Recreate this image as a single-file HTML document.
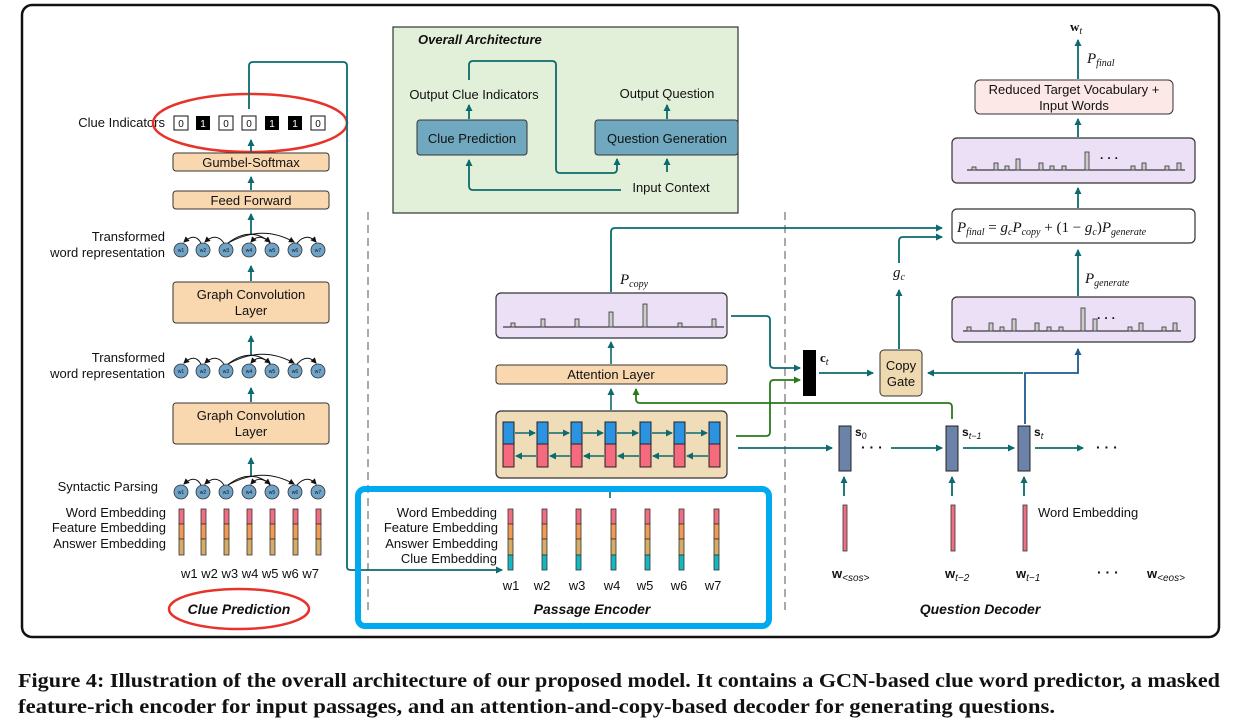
<!DOCTYPE html>
<html><head><meta charset="utf-8"><style>
html,body{margin:0;padding:0;background:#fff;}
svg{display:block;}
text{font-family:"Liberation Sans",sans-serif;fill:#111;}
.s{font-size:13px;}
.m{font-family:"Liberation Serif",serif;font-style:italic;}
.sf{font-family:"Liberation Serif",serif;font-weight:bold;}
.b{font-weight:bold;font-style:italic;}
</style></head><body>
<svg width="1237" height="723" viewBox="0 0 1237 723" xmlns="http://www.w3.org/2000/svg">
<defs>
<marker id="a" markerWidth="8" markerHeight="8" refX="6" refY="4" orient="auto" markerUnits="userSpaceOnUse"><path d="M0,0.5 L7,4 L0,7.5 z" fill="#0b6b6e"/></marker>
<marker id="g" markerWidth="8" markerHeight="8" refX="6" refY="4" orient="auto" markerUnits="userSpaceOnUse"><path d="M0,0.5 L7,4 L0,7.5 z" fill="#2a7a1a"/></marker>
<marker id="bl" markerWidth="8" markerHeight="8" refX="6" refY="4" orient="auto" markerUnits="userSpaceOnUse"><path d="M0,0.5 L7,4 L0,7.5 z" fill="#1f5a8f"/></marker>
<marker id="k" markerWidth="7" markerHeight="7" refX="5" refY="3.5" orient="auto" markerUnits="userSpaceOnUse"><path d="M0,0.5 L6,3.5 L0,6.5 z" fill="#111"/></marker>
<g id="row">
<g fill="#6fa3c8" stroke="#333" stroke-width="0.8">
<circle cx="181" cy="0" r="7"/><circle cx="203" cy="0" r="7"/><circle cx="226" cy="0" r="7"/><circle cx="249" cy="0" r="7"/><circle cx="272" cy="0" r="7"/><circle cx="295" cy="0" r="7"/><circle cx="318" cy="0" r="7"/>
</g>
<g font-size="5" text-anchor="middle">
<text x="181" y="2">w1</text><text x="203" y="2">w2</text><text x="226" y="2">w3</text><text x="249" y="2">w4</text><text x="272" y="2">w5</text><text x="295" y="2">w6</text><text x="318" y="2">w7</text>
</g>
<g fill="none" stroke="#111" stroke-width="1" marker-end="url(#k)">
<path d="M201,-7 Q195,-18 184,-8"/>
<path d="M224,-7 Q216,-18 205,-8"/>
<path d="M228,-7 Q250,-24 270,-8"/>
<path d="M228,-7 Q262,-26 294,-8"/>
<path d="M270,-7 Q260,-18 251,-8"/>
<path d="M297,-7 Q307,-18 316,-8"/>
</g>
</g>
</defs>
<rect x="22" y="5" width="1197" height="632" rx="10" fill="#fff" stroke="#111" stroke-width="2.5"/>

<line x1="368" y1="212" x2="368" y2="612" stroke="#aaa" stroke-width="2" stroke-dasharray="8,5"/>
<line x1="785" y1="212" x2="785" y2="612" stroke="#aaa" stroke-width="2" stroke-dasharray="8,5"/>

<g class="s">
<text x="165" y="127" text-anchor="end">Clue Indicators</text>
<text x="165" y="241" text-anchor="end">Transformed</text>
<text x="165" y="257" text-anchor="end">word representation</text>
<text x="165" y="362" text-anchor="end">Transformed</text>
<text x="165" y="378" text-anchor="end">word representation</text>
<text x="158" y="491" text-anchor="end">Syntactic Parsing</text>
<text x="166" y="517" text-anchor="end">Word Embedding</text>
<text x="166" y="532" text-anchor="end">Feature Embedding</text>
<text x="166" y="548" text-anchor="end">Answer Embedding</text>
</g>
<g font-size="10" text-anchor="middle">
<rect x="174" y="116" width="14" height="14" fill="#fff" stroke="#111"/><text x="181" y="127">0</text>
<rect x="196" y="116" width="14" height="14" fill="#000"/><text x="203" y="127" style="fill:#fff">1</text>
<rect x="219" y="116" width="14" height="14" fill="#fff" stroke="#111"/><text x="226" y="127">0</text>
<rect x="242" y="116" width="14" height="14" fill="#fff" stroke="#111"/><text x="249" y="127">0</text>
<rect x="265" y="116" width="14" height="14" fill="#000"/><text x="272" y="127" style="fill:#fff">1</text>
<rect x="288" y="116" width="14" height="14" fill="#000"/><text x="295" y="127" style="fill:#fff">1</text>
<rect x="311" y="116" width="14" height="14" fill="#fff" stroke="#111"/><text x="318" y="127">0</text>
</g>
<ellipse cx="250" cy="123" rx="97" ry="29" fill="none" stroke="#e8332a" stroke-width="2.5"/>

<g stroke="#333" stroke-width="1">
<rect x="173" y="153" width="156" height="18" rx="3" fill="#f9d8b0"/>
<rect x="173" y="191" width="156" height="18" rx="3" fill="#f9d8b0"/>
<rect x="173" y="282" width="156" height="41" rx="3" fill="#f9d8b0"/>
<rect x="173" y="403" width="156" height="41" rx="3" fill="#f9d8b0"/>
</g>
<g class="s" text-anchor="middle">
<text x="251" y="167">Gumbel-Softmax</text>
<text x="251" y="205">Feed Forward</text>
<text x="251" y="299">Graph Convolution</text>
<text x="251" y="315">Layer</text>
<text x="251" y="420">Graph Convolution</text>
<text x="251" y="436">Layer</text>
</g>
<g stroke="#0b6b6e" stroke-width="1.8" marker-end="url(#a)">
<line x1="251" y1="152" x2="251" y2="140"/>
<line x1="251" y1="190" x2="251" y2="177"/>
<line x1="251" y1="235" x2="251" y2="214"/>
<line x1="251" y1="281" x2="251" y2="266"/>
<line x1="251" y1="356" x2="251" y2="336"/>
<line x1="251" y1="402" x2="251" y2="388"/>
<line x1="251" y1="477" x2="251" y2="458"/>
</g>
<use href="#row" transform="translate(0,250)"/>
<use href="#row" transform="translate(0,371)"/>
<use href="#row" transform="translate(0,492)"/>
<g stroke="#333" stroke-width="0.8">
<g id="emb3">
<rect x="179" y="509" width="5" height="15" fill="#ef6e82"/>
<rect x="179" y="524" width="5" height="15" fill="#f39a52"/>
<rect x="179" y="539" width="5" height="16" fill="#d5ac66"/>
</g>
<use href="#emb3" x="22"/><use href="#emb3" x="45"/><use href="#emb3" x="68"/><use href="#emb3" x="91"/><use href="#emb3" x="114"/><use href="#emb3" x="137"/>
</g>
<text x="250" y="578" class="s" text-anchor="middle">w1 w2 w3 w4 w5 w6 w7</text>
<text x="239" y="614" class="b" font-size="14" text-anchor="middle">Clue Prediction</text>
<ellipse cx="239" cy="609" rx="70" ry="20" fill="none" stroke="#e8332a" stroke-width="2.5"/>
<path d="M249,109 L249,66 Q249,62 253,62 L343,62 Q347,62 347,66 L347,567 Q347,570 351,570 L502,570" fill="none" stroke="#0b6b6e" stroke-width="1.8" marker-end="url(#a)"/>

<rect x="393" y="27" width="345" height="186" fill="#e2efd9" stroke="#333" stroke-width="1.2"/>
<text x="418" y="44" class="b" font-size="13">Overall Architecture</text>
<rect x="417" y="120" width="110" height="35" rx="3" fill="#6fa8bf" stroke="#333"/>
<rect x="595" y="120" width="143" height="35" rx="3" fill="#6fa8bf" stroke="#333"/>
<g class="s" text-anchor="middle">
<text x="472" y="143">Clue Prediction</text>
<text x="667" y="143">Question Generation</text>
<text x="474" y="99">Output Clue Indicators</text>
<text x="667" y="98">Output Question</text>
<text x="671" y="192">Input Context</text>
</g>
<g fill="none" stroke="#0b6b6e" stroke-width="1.8">
<line x1="469" y1="119" x2="469" y2="105" marker-end="url(#a)"/>
<line x1="667" y1="119" x2="667" y2="105" marker-end="url(#a)"/>
<line x1="667" y1="172" x2="667" y2="159" marker-end="url(#a)"/>
<path d="M469,80 L469,65 Q469,61 473,61 L552,61 Q556,61 556,65 L556,169 Q556,173 560,173 L613,173 Q617,173 617,169 L617,159" marker-end="url(#a)"/>
<path d="M621,190 L473,190 Q469,190 469,186 L469,160" marker-end="url(#a)"/>
</g>

<rect x="496" y="293" width="231" height="45" rx="5" fill="#ebe0f5" stroke="#333" stroke-width="1.2"/>
<line x1="503" y1="327" x2="724" y2="327" stroke="#111" stroke-width="1"/>
<g fill="#ccc" stroke="#333" stroke-width="0.8">
<rect x="511" y="323" width="4" height="4"/><rect x="541" y="319" width="4" height="8"/><rect x="575" y="319" width="4" height="8"/><rect x="609" y="312" width="4" height="15"/><rect x="643" y="304" width="4" height="23"/><rect x="678" y="323" width="4" height="4"/><rect x="712" y="319" width="4" height="8"/>
</g>
<text x="620" y="284" class="m" font-size="15">P<tspan font-size="10" dy="3">copy</tspan></text>
<rect x="496" y="365" width="231" height="19" rx="3" fill="#f9d8b0" stroke="#333"/>
<text x="611" y="379" class="s" text-anchor="middle">Attention Layer</text>
<rect x="496" y="411" width="231" height="67" rx="5" fill="#efdcb9" stroke="#333" stroke-width="1.2"/>
<g stroke="#222" stroke-width="1">
<g id="cell"><rect x="503" y="422" width="11" height="22" fill="#2b93e0"/><rect x="503" y="444" width="11" height="23" fill="#f56b7d"/></g>
<use href="#cell" x="34"/><use href="#cell" x="68"/><use href="#cell" x="102"/><use href="#cell" x="137"/><use href="#cell" x="171"/><use href="#cell" x="206"/>
</g>
<g stroke="#0b6b6e" stroke-width="1.6">
<line x1="515" y1="433" x2="535" y2="433" marker-end="url(#a)"/><line x1="549" y1="433" x2="569" y2="433" marker-end="url(#a)"/><line x1="583" y1="433" x2="603" y2="433" marker-end="url(#a)"/><line x1="617" y1="433" x2="638" y2="433" marker-end="url(#a)"/><line x1="652" y1="433" x2="672" y2="433" marker-end="url(#a)"/><line x1="686" y1="433" x2="707" y2="433" marker-end="url(#a)"/>
<line x1="536" y1="456" x2="516" y2="456" marker-end="url(#a)"/><line x1="570" y1="456" x2="550" y2="456" marker-end="url(#a)"/><line x1="604" y1="456" x2="584" y2="456" marker-end="url(#a)"/><line x1="639" y1="456" x2="618" y2="456" marker-end="url(#a)"/><line x1="673" y1="456" x2="653" y2="456" marker-end="url(#a)"/><line x1="708" y1="456" x2="687" y2="456" marker-end="url(#a)"/>
<line x1="611" y1="410" x2="611" y2="389" marker-end="url(#a)"/>
<line x1="611" y1="364" x2="611" y2="342" marker-end="url(#a)"/>
<line x1="610" y1="498" x2="610" y2="486"/>
</g>
<rect x="358" y="489" width="411" height="137" rx="7" fill="none" stroke="#00aaf0" stroke-width="6"/>
<g class="s" text-anchor="end">
<text x="497" y="517">Word Embedding</text>
<text x="498" y="532">Feature Embedding</text>
<text x="498" y="548">Answer Embedding</text>
<text x="497" y="563">Clue Embedding</text>
</g>
<g stroke="#333" stroke-width="0.8">
<g id="emb4">
<rect x="508" y="509" width="5" height="15" fill="#ef6e82"/>
<rect x="508" y="524" width="5" height="15" fill="#f39a52"/>
<rect x="508" y="539" width="5" height="16" fill="#d5ac66"/>
<rect x="508" y="555" width="5" height="15" fill="#14b8c0"/>
</g>
<use href="#emb4" x="34"/><use href="#emb4" x="68"/><use href="#emb4" x="103"/><use href="#emb4" x="137"/><use href="#emb4" x="171"/><use href="#emb4" x="206"/>
</g>
<g class="s" text-anchor="middle">
<text x="511" y="590">w1</text><text x="542" y="590">w2</text><text x="577" y="590">w3</text><text x="612" y="590">w4</text><text x="645" y="590">w5</text><text x="679" y="590">w6</text><text x="713" y="590">w7</text>
</g>
<text x="592" y="614" class="b" font-size="14" text-anchor="middle">Passage Encoder</text>

<g fill="none" stroke-width="1.8">
<path d="M611,292 L611,232 Q611,228 615,228 L942,228" stroke="#0b6b6e" marker-end="url(#a)"/>
<path d="M731,316 L766,316 Q770,316 770,320 L770,364 Q770,368 774,368 L800,368" stroke="#0b6b6e" marker-end="url(#a)"/>
<path d="M736,436 L766,436 Q770,436 770,432 L770,384 Q770,380 774,380 L800,380" stroke="#2a7a1a" marker-end="url(#g)"/>
<path d="M952,419 L952,407 Q952,403 948,403 L640,403 Q636,403 636,399 L636,389" stroke="#2a7a1a" marker-end="url(#g)"/>
<path d="M738,448 L832,448" stroke="#0b6b6e" marker-end="url(#a)"/>
</g>

<rect x="803" y="350" width="13" height="46" fill="#000"/>
<text x="820" y="362" class="sf" font-size="13">c<tspan style="font-style:italic;font-weight:normal" font-size="10" dy="3">t</tspan></text>
<rect x="880" y="350" width="42" height="46" rx="4" fill="#efd9b0" stroke="#333"/>
<text x="901" y="370" class="s" text-anchor="middle">Copy</text>
<text x="901" y="386" class="s" text-anchor="middle">Gate</text>
<text x="893" y="277" class="m" font-size="15">g<tspan font-size="10" dy="3">c</tspan></text>
<g fill="none" stroke="#0b6b6e" stroke-width="1.8">
<line x1="819" y1="373" x2="873" y2="373" marker-end="url(#a)"/>
<line x1="899" y1="349" x2="899" y2="290" marker-end="url(#a)"/>
<path d="M899,263 L899,241 Q899,237 903,237 L942,237" marker-end="url(#a)"/>
<line x1="1023" y1="373" x2="928" y2="373" marker-end="url(#a)"/>
</g>
<path d="M1025,424 L1025,373 L1078,373 L1078,349" fill="none" stroke="#1f5a8f" stroke-width="1.8" marker-end="url(#bl)"/>
<g fill="#6d82a8" stroke="#222" stroke-width="1">
<rect x="839" y="426" width="12" height="45"/>
<rect x="946" y="426" width="12" height="45"/>
<rect x="1018" y="426" width="12" height="45"/>
</g>
<g class="sf" font-size="12">
<text x="855" y="436">s<tspan font-size="9" style="font-weight:normal" dy="3">0</tspan></text>
<text x="962" y="436">s<tspan font-size="9" style="font-style:italic;font-weight:normal" dy="3">t−1</tspan></text>
<text x="1034" y="436">s<tspan font-size="9" style="font-style:italic;font-weight:normal" dy="3">t</tspan></text>
</g>
<g font-size="14" font-weight="bold"><text x="861" y="452">· · ·</text><text x="1096" y="452">· · ·</text><text x="1097" y="577">· · ·</text></g>
<g fill="none" stroke="#0b6b6e" stroke-width="1.8">
<line x1="891" y1="448" x2="942" y2="448" marker-end="url(#a)"/>
<line x1="963" y1="448" x2="1014" y2="448" marker-end="url(#a)"/>
<line x1="1035" y1="448" x2="1083" y2="448" marker-end="url(#a)"/>
<line x1="844" y1="496" x2="844" y2="477" marker-end="url(#a)"/>
<line x1="952" y1="496" x2="952" y2="477" marker-end="url(#a)"/>
<line x1="1024" y1="496" x2="1024" y2="477" marker-end="url(#a)"/>
</g>
<g fill="#ef6e82" stroke="#333" stroke-width="0.8">
<rect x="843" y="505" width="4" height="46"/><rect x="951" y="505" width="4" height="46"/><rect x="1023" y="505" width="4" height="46"/>
</g>
<text x="1038" y="517" class="s">Word Embedding</text>
<g class="sf" font-size="13">
<text x="832" y="578">w<tspan font-size="10" style="font-style:italic;font-weight:normal" dy="3">&lt;sos&gt;</tspan></text>
<text x="945" y="578">w<tspan font-size="10" style="font-style:italic;font-weight:normal" dy="3">t−2</tspan></text>
<text x="1016" y="578">w<tspan font-size="10" style="font-style:italic;font-weight:normal" dy="3">t−1</tspan></text>
<text x="1147" y="578">w<tspan font-size="10" style="font-style:italic;font-weight:normal" dy="3">&lt;eos&gt;</tspan></text>
</g>
<text x="980" y="614" class="b" font-size="14" text-anchor="middle">Question Decoder</text>

<rect x="952" y="297" width="243" height="45" rx="5" fill="#ebe0f5" stroke="#333" stroke-width="1.2"/>
<line x1="963" y1="331" x2="1181" y2="331" stroke="#111"/>
<g fill="#ccc" stroke="#333" stroke-width="0.8">
<rect x="967" y="327" width="4" height="4"/><rect x="989" y="323" width="4" height="8"/><rect x="1000" y="327" width="4" height="4"/><rect x="1012" y="319" width="4" height="12"/><rect x="1035" y="323" width="4" height="8"/><rect x="1047" y="327" width="4" height="4"/><rect x="1059" y="327" width="4" height="4"/><rect x="1081" y="308" width="4" height="23"/><rect x="1093" y="319" width="4" height="12"/><rect x="1128" y="327" width="4" height="4"/><rect x="1139" y="323" width="4" height="8"/><rect x="1162" y="327" width="4" height="4"/><rect x="1173" y="323" width="4" height="8"/>
</g>
<text x="1097" y="322" font-size="12" font-weight="bold">· · ·</text>
<text x="1085" y="283" class="m" font-size="15">P<tspan font-size="10" dy="3">generate</tspan></text>
<rect x="952" y="209" width="243" height="34" rx="5" fill="#fff" stroke="#333" stroke-width="1.2"/>
<text x="957" y="232" class="m" font-size="15">P<tspan font-size="10" dy="3">final</tspan><tspan dy="-3" style="font-style:normal"> = </tspan>g<tspan font-size="10" dy="3">c</tspan><tspan dy="-3">P</tspan><tspan font-size="10" dy="3">copy</tspan><tspan dy="-3" style="font-style:normal"> + (1 − </tspan>g<tspan font-size="10" dy="3">c</tspan><tspan dy="-3" style="font-style:normal">)</tspan>P<tspan font-size="10" dy="3">generate</tspan></text>
<rect x="952" y="138" width="243" height="45" rx="5" fill="#ebe0f5" stroke="#333" stroke-width="1.2"/>
<line x1="967" y1="170" x2="1185" y2="170" stroke="#111"/>
<g fill="#ccc" stroke="#333" stroke-width="0.8">
<rect x="972" y="167" width="4" height="3"/><rect x="994" y="163" width="4" height="7"/><rect x="1005" y="166" width="4" height="4"/><rect x="1016" y="159" width="4" height="11"/><rect x="1039" y="163" width="4" height="7"/><rect x="1050" y="166" width="4" height="4"/><rect x="1062" y="166" width="4" height="4"/><rect x="1085" y="152" width="4" height="18"/><rect x="1131" y="166" width="4" height="4"/><rect x="1142" y="163" width="4" height="7"/><rect x="1165" y="166" width="4" height="4"/><rect x="1177" y="163" width="4" height="7"/>
</g>
<text x="1100" y="162" font-size="12" font-weight="bold">· · ·</text>
<rect x="975" y="80" width="198" height="34" rx="5" fill="#fde8e8" stroke="#333"/>
<text x="1074" y="94" class="s" text-anchor="middle">Reduced Target Vocabulary +</text>
<text x="1074" y="110" class="s" text-anchor="middle">Input Words</text>
<g stroke="#0b6b6e" stroke-width="1.8">
<line x1="1078" y1="296" x2="1078" y2="250" marker-end="url(#a)"/>
<line x1="1078" y1="208" x2="1078" y2="188" marker-end="url(#a)"/>
<line x1="1078" y1="137" x2="1078" y2="119" marker-end="url(#a)"/>
<line x1="1078" y1="79" x2="1078" y2="40" marker-end="url(#a)"/>
</g>
<text x="1087" y="63" class="m" font-size="15">P<tspan font-size="10" dy="3">final</tspan></text>
<text x="1070" y="31" class="sf" font-size="13">w<tspan font-size="10" style="font-style:italic;font-weight:normal" dy="3">t</tspan></text>

<text x="18" y="687" class="sf" font-size="20" textLength="1202" lengthAdjust="spacingAndGlyphs">Figure 4: Illustration of the overall architecture of our proposed model. It contains a GCN-based clue word predictor, a masked</text>
<text x="18" y="713" class="sf" font-size="20" textLength="1037" lengthAdjust="spacingAndGlyphs">feature-rich encoder for input passages, and an attention-and-copy-based decoder for generating questions.</text>
</svg>
</body></html>
